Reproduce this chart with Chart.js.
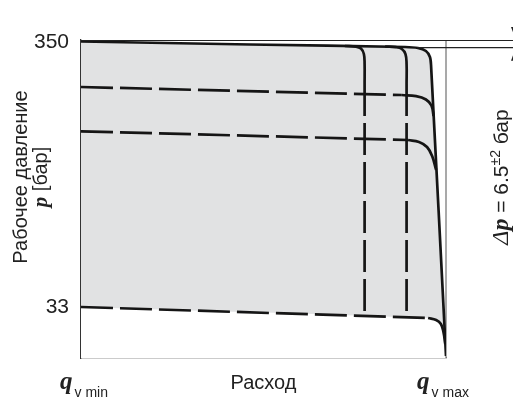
<!DOCTYPE html>
<html>
<head>
<meta charset="utf-8">
<script src="https://cdn.jsdelivr.net/npm/chart.js@4.4.1/dist/chart.umd.min.js"></script>
<style>
  body { margin: 0; background: #fff; }
</style>
</head>
<body>
<canvas id="grafico" width="513" height="403"></canvas>
<script>
// давление в бар, расход в % от q_v max
const ticksDavlenie = [33, 350];
const podpisiRashod = ['v min', 'v max'];

// внешняя граница области (максимальный расход)
const granica = [[0, 350.6], [46.3, 347.0], [88.8, 344.0], [92.3, 342.8], [94.5, 339.2], [95.6, 332.1], [95.9, 322.5], [100, -25.6]];

// промежуточные ограничения расхода
const rashod1 = [[72.3, 345.2], [75.3, 344.5], [76.7, 342.2], [77.5, 335.6], [77.7, 323.7], [77.7, 299.8]];
const rashod1Pr = [[77.7, 299.8], [77.7, 22.2]];
const rashod2 = [[83.3, 344.6], [86.3, 343.8], [87.9, 341.6], [88.9, 335.6], [89.2, 323.7], [89.2, 299.8]];
const rashod2Pr = [[89.2, 299.8], [89.2, 21.0]];

// промежуточные ограничения давления
const davl1Pr = [[0, 296.2], [87.9, 286.6]];
const davl1 = [[87.9, 286.6], [91.8, 285.2], [94.5, 281.2], [96.0, 274.0], [96.6, 261.5]];
const davl2Pr = [[0, 243.2], [89.6, 232.8]];
const davl2 = [[89.6, 232.8], [92.6, 230.4], [94.8, 224.4], [96.2, 213.6], [97.3, 196.9]];
const davlMinPr = [[0, 33], [95.1, 19.8]];
const davlMin = [[95.1, 19.8], [97.3, 17.4], [98.6, 12.7], [99.3, 3.1], [99.8, -11.2]];

// уровень верхней настройки (Δp)
const urovenDp = 343.2;

const SANS = '"Liberation Sans", Arial, sans-serif';
const SERIF = '"Liberation Serif", "Times New Roman", serif';
const CHERNY = '#151515';
const TEKST = '#222';

function xy(arr) {
  return arr.map(p => ({ x: p[0], y: p[1] }));
}

function liniya(arr, shtrih, dop) {
  return Object.assign({
    data: xy(arr),
    showLine: true,
    borderColor: CHERNY,
    borderWidth: 2.7,
    borderCapStyle: 'butt',
    borderDash: shtrih ? [32, 7] : [],
    tension: shtrih ? 0 : 0.4,
    pointRadius: 0,
    fill: false,
    order: 1
  }, dop || {});
}

// белая зона ниже минимального давления (только заливка)
const nizhnyaZona = davlMinPr.concat(davlMin.slice(1), [granica[granica.length - 1]]);

const dopolnitelno = {
  id: 'dopolnitelno',
  beforeDatasetsDraw(chart) {
    const { ctx, chartArea: a } = chart;
    ctx.save();
    // правая рамка
    ctx.strokeStyle = '#8c8c8c';
    ctx.lineWidth = 1.5;
    ctx.beginPath();
    ctx.moveTo(a.right, a.top);
    ctx.lineTo(a.right, a.bottom);
    ctx.stroke();
    ctx.restore();
  },
  afterDraw(chart) {
    const { ctx, chartArea: a, scales } = chart;
    const W = chart.width;
    ctx.save();

    // верхняя линия и линия Δp, выходящие за поле
    const yDp = scales.y.getPixelForValue(urovenDp);
    ctx.strokeStyle = '#222';
    ctx.lineWidth = 1.2;
    ctx.beginPath();
    ctx.moveTo(a.left, a.top + 0.5);
    ctx.lineTo(W, a.top + 0.5);
    ctx.moveTo(scales.x.getPixelForValue(92), yDp);
    ctx.lineTo(W, yDp);
    ctx.stroke();

    // стрелки размера
    ctx.fillStyle = '#222';
    ctx.beginPath();
    ctx.moveTo(511, 27); ctx.lineTo(520, 27); ctx.lineTo(515.5, a.top - 1); ctx.closePath();
    ctx.moveTo(511, yDp + 13); ctx.lineTo(520, yDp + 13); ctx.lineTo(515.5, yDp + 1); ctx.closePath();
    ctx.fill();

    // подписи q_v min / q_v max
    ctx.fillStyle = TEKST;
    ctx.textBaseline = 'alphabetic';
    ctx.textAlign = 'left';
    [scales.x.min, scales.x.max].forEach((v, i) => {
      const xc = scales.x.getPixelForValue(v) + (i === 0 ? 3 : -3);
      ctx.font = 'italic bold 25px ' + SERIF;
      const wq = ctx.measureText('q').width;
      ctx.font = '14px ' + SANS;
      const ws = ctx.measureText(podpisiRashod[i]).width;
      const x0 = xc - (wq + 2 + ws) / 2;
      ctx.font = 'italic bold 25px ' + SERIF;
      ctx.fillText('q', x0, 389);
      ctx.font = '14px ' + SANS;
      ctx.fillText(podpisiRashod[i], x0 + wq + 2, 397);
    });

    // подпись оси давления
    ctx.save();
    ctx.translate(27, 177);
    ctx.rotate(-Math.PI / 2);
    ctx.textAlign = 'center';
    ctx.font = '20px ' + SANS;
    ctx.fillText('Рабочее давление', 0, 0);
    ctx.restore();

    ctx.save();
    ctx.translate(47, 177);
    ctx.rotate(-Math.PI / 2);
    ctx.textAlign = 'left';
    ctx.font = 'italic bold 21px ' + SERIF;
    const wp = ctx.measureText('p').width;
    ctx.font = '20px ' + SANS;
    const wb = ctx.measureText(' [бар]').width;
    let x = -(wp + wb) / 2;
    ctx.font = 'italic bold 21px ' + SERIF;
    ctx.fillText('p', x, 0);
    ctx.font = '20px ' + SANS;
    ctx.fillText(' [бар]', x + wp, 0);
    ctx.restore();

    // Δp = 6.5±2 бар
    ctx.save();
    ctx.translate(508, 177);
    ctx.rotate(-Math.PI / 2);
    const kuski = [
      ['Δ', 'italic 24px ' + SERIF, 0],
      ['p', 'italic bold 24px ' + SERIF, 0],
      [' = 6.5', '21px ' + SANS, 0],
      ['±2', '14px ' + SANS, -8],
      [' бар', '21px ' + SANS, 0]
    ];
    let obshaya = 0;
    kuski.forEach(k => { ctx.font = k[1]; k.push(ctx.measureText(k[0]).width); obshaya += k[3]; });
    x = -obshaya / 2;
    kuski.forEach(k => {
      ctx.font = k[1];
      ctx.fillText(k[0], x, k[2]);
      x += k[3];
    });
    ctx.restore();

    ctx.restore();
  }
};

const ctx = document.getElementById('grafico');

new Chart(ctx, {
  type: 'scatter',
  data: {
    datasets: [
      liniya(granica, false, { fill: 'start', backgroundColor: '#e1e2e3', order: 3, tension: 0.3 }),
      liniya(nizhnyaZona, false, { fill: 'start', backgroundColor: '#ffffff', borderWidth: 0, order: 2 }),
      liniya(davlMinPr, true),
      liniya(davlMin, false),
      liniya(rashod1, false),
      liniya(rashod1Pr, true),
      liniya(rashod2, false),
      liniya(rashod2Pr, true),
      liniya(davl1Pr, true),
      liniya(davl1, false),
      liniya(davl2Pr, true),
      liniya(davl2, false)
    ]
  },
  options: {
    responsive: false,
    animation: false,
    layout: { padding: { top: 40, right: 67, left: 0, bottom: 0 } },
    plugins: {
      legend: { display: false },
      tooltip: { enabled: false },
      filler: { drawTime: 'beforeDatasetsDraw' }
    },
    scales: {
      x: {
        type: 'linear',
        min: 0,
        max: 100,
        grid: { display: false, drawTicks: false },
        border: { color: '#333', width: 1.3 },
        ticks: { display: false },
        title: {
          display: true,
          text: 'Расход',
          color: TEKST,
          font: { family: SANS, size: 20 },
          padding: { top: 0, bottom: 8 }
        },
        afterFit(s) { s.height = 45; }
      },
      y: {
        type: 'linear',
        min: -28,
        max: 352.4,
        grid: { display: false, drawTicks: false },
        border: { color: '#333', width: 1.3 },
        ticks: {
          color: TEKST,
          font: { family: SANS, size: 21 },
          padding: 12
        },
        afterBuildTicks(s) { s.ticks = ticksDavlenie.map(v => ({ value: v })); },
        afterFit(s) { s.width = 81; }
      }
    }
  },
  plugins: [dopolnitelno]
});
</script>
</body>
</html>
